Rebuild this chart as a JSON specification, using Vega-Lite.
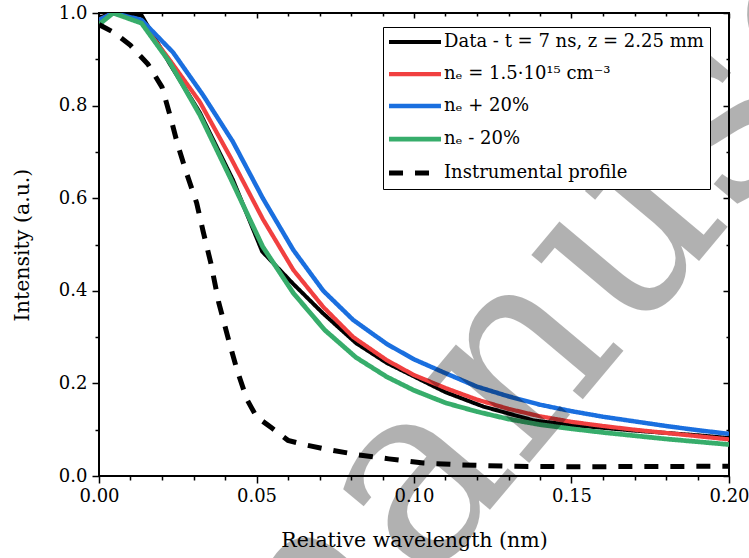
{
  "$schema": "https://vega.github.io/schema/vega-lite/v6.json",
  "width": 630,
  "height": 463,
  "autosize": "none",
  "padding": {"left": 99, "top": 13, "right": 20, "bottom": 82},
  "config": {
    "font": "DejaVu Serif",
    "view": {"stroke": "black", "strokeWidth": 2},
    "axis": {
      "domain": false,
      "grid": false,
      "tickColor": "black",
      "tickWidth": 1.5,
      "labelColor": "black",
      "titleColor": "black",
      "labelFont": "DejaVu Serif",
      "titleFont": "DejaVu Serif",
      "labelFontSize": 18,
      "titleFontSize": 20.5,
      "titleFontWeight": "normal",
      "labelOverlap": false,
      "labelFlush": false
    }
  },
  "datasets": {
    "curves": [
      {"s": "Data - t = 7 ns, z = 2.25 mm", "x": 0, "y": 0.99},
      {"s": "Data - t = 7 ns, z = 2.25 mm", "x": 0.0045, "y": 1.0},
      {"s": "Data - t = 7 ns, z = 2.25 mm", "x": 0.0135, "y": 0.995},
      {"s": "Data - t = 7 ns, z = 2.25 mm", "x": 0.0225, "y": 0.89},
      {"s": "Data - t = 7 ns, z = 2.25 mm", "x": 0.032, "y": 0.785},
      {"s": "Data - t = 7 ns, z = 2.25 mm", "x": 0.0425, "y": 0.64},
      {"s": "Data - t = 7 ns, z = 2.25 mm", "x": 0.0518, "y": 0.485},
      {"s": "Data - t = 7 ns, z = 2.25 mm", "x": 0.0615, "y": 0.416},
      {"s": "Data - t = 7 ns, z = 2.25 mm", "x": 0.071, "y": 0.352},
      {"s": "Data - t = 7 ns, z = 2.25 mm", "x": 0.0816, "y": 0.287},
      {"s": "Data - t = 7 ns, z = 2.25 mm", "x": 0.0914, "y": 0.244},
      {"s": "Data - t = 7 ns, z = 2.25 mm", "x": 0.1, "y": 0.215},
      {"s": "Data - t = 7 ns, z = 2.25 mm", "x": 0.11, "y": 0.181},
      {"s": "Data - t = 7 ns, z = 2.25 mm", "x": 0.122, "y": 0.15},
      {"s": "Data - t = 7 ns, z = 2.25 mm", "x": 0.138, "y": 0.12},
      {"s": "Data - t = 7 ns, z = 2.25 mm", "x": 0.15, "y": 0.11},
      {"s": "Data - t = 7 ns, z = 2.25 mm", "x": 0.16, "y": 0.104},
      {"s": "Data - t = 7 ns, z = 2.25 mm", "x": 0.17, "y": 0.098},
      {"s": "Data - t = 7 ns, z = 2.25 mm", "x": 0.18, "y": 0.093},
      {"s": "Data - t = 7 ns, z = 2.25 mm", "x": 0.19, "y": 0.088},
      {"s": "Data - t = 7 ns, z = 2.25 mm", "x": 0.2, "y": 0.082},
      {"s": "nₑ = 1.5·10¹⁵ cm⁻³", "x": 0, "y": 0.985},
      {"s": "nₑ = 1.5·10¹⁵ cm⁻³", "x": 0.0045, "y": 1.0},
      {"s": "nₑ = 1.5·10¹⁵ cm⁻³", "x": 0.0135, "y": 0.98},
      {"s": "nₑ = 1.5·10¹⁵ cm⁻³", "x": 0.0225, "y": 0.898},
      {"s": "nₑ = 1.5·10¹⁵ cm⁻³", "x": 0.032, "y": 0.808},
      {"s": "nₑ = 1.5·10¹⁵ cm⁻³", "x": 0.042, "y": 0.685},
      {"s": "nₑ = 1.5·10¹⁵ cm⁻³", "x": 0.052, "y": 0.555},
      {"s": "nₑ = 1.5·10¹⁵ cm⁻³", "x": 0.0617, "y": 0.445},
      {"s": "nₑ = 1.5·10¹⁵ cm⁻³", "x": 0.0712, "y": 0.365},
      {"s": "nₑ = 1.5·10¹⁵ cm⁻³", "x": 0.0807, "y": 0.3},
      {"s": "nₑ = 1.5·10¹⁵ cm⁻³", "x": 0.0914, "y": 0.25},
      {"s": "nₑ = 1.5·10¹⁵ cm⁻³", "x": 0.1, "y": 0.218},
      {"s": "nₑ = 1.5·10¹⁵ cm⁻³", "x": 0.11, "y": 0.19},
      {"s": "nₑ = 1.5·10¹⁵ cm⁻³", "x": 0.12, "y": 0.165},
      {"s": "nₑ = 1.5·10¹⁵ cm⁻³", "x": 0.13, "y": 0.145},
      {"s": "nₑ = 1.5·10¹⁵ cm⁻³", "x": 0.14, "y": 0.129},
      {"s": "nₑ = 1.5·10¹⁵ cm⁻³", "x": 0.15, "y": 0.117},
      {"s": "nₑ = 1.5·10¹⁵ cm⁻³", "x": 0.16, "y": 0.108},
      {"s": "nₑ = 1.5·10¹⁵ cm⁻³", "x": 0.17, "y": 0.1},
      {"s": "nₑ = 1.5·10¹⁵ cm⁻³", "x": 0.18, "y": 0.093},
      {"s": "nₑ = 1.5·10¹⁵ cm⁻³", "x": 0.19, "y": 0.086},
      {"s": "nₑ = 1.5·10¹⁵ cm⁻³", "x": 0.2, "y": 0.079},
      {"s": "nₑ + 20%", "x": 0, "y": 0.985},
      {"s": "nₑ + 20%", "x": 0.0045, "y": 1.0},
      {"s": "nₑ + 20%", "x": 0.0135, "y": 0.985},
      {"s": "nₑ + 20%", "x": 0.0235, "y": 0.915},
      {"s": "nₑ + 20%", "x": 0.033, "y": 0.823},
      {"s": "nₑ + 20%", "x": 0.0425, "y": 0.722},
      {"s": "nₑ + 20%", "x": 0.052, "y": 0.6},
      {"s": "nₑ + 20%", "x": 0.0617, "y": 0.488},
      {"s": "nₑ + 20%", "x": 0.0712, "y": 0.4},
      {"s": "nₑ + 20%", "x": 0.0807, "y": 0.337},
      {"s": "nₑ + 20%", "x": 0.0914, "y": 0.285},
      {"s": "nₑ + 20%", "x": 0.1, "y": 0.252},
      {"s": "nₑ + 20%", "x": 0.11, "y": 0.222},
      {"s": "nₑ + 20%", "x": 0.12, "y": 0.193},
      {"s": "nₑ + 20%", "x": 0.13, "y": 0.172},
      {"s": "nₑ + 20%", "x": 0.14, "y": 0.154},
      {"s": "nₑ + 20%", "x": 0.15, "y": 0.14},
      {"s": "nₑ + 20%", "x": 0.16, "y": 0.128},
      {"s": "nₑ + 20%", "x": 0.17, "y": 0.118},
      {"s": "nₑ + 20%", "x": 0.18, "y": 0.108},
      {"s": "nₑ + 20%", "x": 0.19, "y": 0.099},
      {"s": "nₑ + 20%", "x": 0.2, "y": 0.091},
      {"s": "nₑ - 20%", "x": 0, "y": 0.975},
      {"s": "nₑ - 20%", "x": 0.0045, "y": 1.0},
      {"s": "nₑ - 20%", "x": 0.0135, "y": 0.978},
      {"s": "nₑ - 20%", "x": 0.0225, "y": 0.893},
      {"s": "nₑ - 20%", "x": 0.032, "y": 0.78},
      {"s": "nₑ - 20%", "x": 0.0416, "y": 0.645},
      {"s": "nₑ - 20%", "x": 0.052, "y": 0.495},
      {"s": "nₑ - 20%", "x": 0.0617, "y": 0.395},
      {"s": "nₑ - 20%", "x": 0.0717, "y": 0.315},
      {"s": "nₑ - 20%", "x": 0.0816, "y": 0.256},
      {"s": "nₑ - 20%", "x": 0.0914, "y": 0.214},
      {"s": "nₑ - 20%", "x": 0.1, "y": 0.185},
      {"s": "nₑ - 20%", "x": 0.11, "y": 0.158},
      {"s": "nₑ - 20%", "x": 0.12, "y": 0.139},
      {"s": "nₑ - 20%", "x": 0.13, "y": 0.123},
      {"s": "nₑ - 20%", "x": 0.14, "y": 0.111},
      {"s": "nₑ - 20%", "x": 0.15, "y": 0.102},
      {"s": "nₑ - 20%", "x": 0.16, "y": 0.094},
      {"s": "nₑ - 20%", "x": 0.17, "y": 0.087},
      {"s": "nₑ - 20%", "x": 0.18, "y": 0.08},
      {"s": "nₑ - 20%", "x": 0.19, "y": 0.074},
      {"s": "nₑ - 20%", "x": 0.2, "y": 0.068},
      {"s": "Instrumental profile", "x": 0, "y": 0.975},
      {"s": "Instrumental profile", "x": 0.005, "y": 0.957},
      {"s": "Instrumental profile", "x": 0.01, "y": 0.93},
      {"s": "Instrumental profile", "x": 0.0155, "y": 0.89},
      {"s": "Instrumental profile", "x": 0.02, "y": 0.84},
      {"s": "Instrumental profile", "x": 0.0225, "y": 0.78},
      {"s": "Instrumental profile", "x": 0.025, "y": 0.715},
      {"s": "Instrumental profile", "x": 0.028, "y": 0.65},
      {"s": "Instrumental profile", "x": 0.031, "y": 0.59},
      {"s": "Instrumental profile", "x": 0.033, "y": 0.53},
      {"s": "Instrumental profile", "x": 0.0355, "y": 0.46},
      {"s": "Instrumental profile", "x": 0.038, "y": 0.375},
      {"s": "Instrumental profile", "x": 0.0415, "y": 0.285},
      {"s": "Instrumental profile", "x": 0.044, "y": 0.225},
      {"s": "Instrumental profile", "x": 0.047, "y": 0.165},
      {"s": "Instrumental profile", "x": 0.05, "y": 0.128},
      {"s": "Instrumental profile", "x": 0.055, "y": 0.103},
      {"s": "Instrumental profile", "x": 0.06, "y": 0.077},
      {"s": "Instrumental profile", "x": 0.065, "y": 0.068},
      {"s": "Instrumental profile", "x": 0.072, "y": 0.058},
      {"s": "Instrumental profile", "x": 0.082, "y": 0.046},
      {"s": "Instrumental profile", "x": 0.092, "y": 0.037},
      {"s": "Instrumental profile", "x": 0.103, "y": 0.028},
      {"s": "Instrumental profile", "x": 0.115, "y": 0.024},
      {"s": "Instrumental profile", "x": 0.13, "y": 0.021},
      {"s": "Instrumental profile", "x": 0.15, "y": 0.02},
      {"s": "Instrumental profile", "x": 0.2, "y": 0.021}
    ]
  },
  "resolve": {"axis": {"x": "independent", "y": "independent"}},
  "layer": [
    {
      "data": {"name": "curves"},
      "mark": {"type": "line", "clip": true},
      "encoding": {
        "x": {
          "field": "x",
          "type": "quantitative",
          "scale": {"domain": [0, 0.2], "nice": false, "zero": false},
          "axis": {
            "title": "Relative wavelength (nm)",
            "values": [0, 0.01, 0.02, 0.03, 0.04, 0.05, 0.06, 0.07, 0.08, 0.09, 0.1, 0.11, 0.12, 0.13, 0.14, 0.15, 0.16, 0.17, 0.18, 0.19, 0.2],
            "labelExpr": "round(datum.value * 100) % 5 == 0 ? format(datum.value, '.2f') : ''",
            "tickSize": {"condition": {"test": "round(datum.value * 100) % 5 == 0", "value": 7}, "value": 4},
            "labelPadding": 4,
            "titlePadding": 25
          }
        },
        "y": {
          "field": "y",
          "type": "quantitative",
          "scale": {"domain": [0, 1], "nice": false},
          "axis": {
            "title": "Intensity (a.u.)",
            "values": [0, 0.1, 0.2, 0.3, 0.4, 0.5, 0.6, 0.7, 0.8, 0.9, 1],
            "labelExpr": "round(datum.value * 10) % 2 == 0 ? format(datum.value, '.1f') : ''",
            "tickSize": {"condition": {"test": "round(datum.value * 10) % 2 == 0", "value": 7}, "value": 4},
            "labelPadding": 5,
            "titlePadding": 26
          }
        },
        "color": {
          "field": "s",
          "type": "nominal",
          "scale": {
            "domain": ["Data - t = 7 ns, z = 2.25 mm", "nₑ = 1.5·10¹⁵ cm⁻³", "nₑ + 20%", "nₑ - 20%", "Instrumental profile"],
            "range": ["#000000", "#F14040", "#1A6FDF", "#37AD6B", "#000000"]
          },
          "legend": {
            "title": null,
            "orient": "none",
            "legendX": 284,
            "legendY": 14,
            "strokeColor": "black",
            "fillColor": "white",
            "padding": 6,
            "symbolType": "M-5,0H5",
            "symbolSize": 108,
            "symbolStrokeWidth": 4.5,
            "symbolOffset": 17,
            "labelOffset": 20,
            "labelFont": "DejaVu Serif",
            "labelFontSize": 18,
            "labelColor": "black",
            "labelLimit": 400,
            "rowPadding": 14
          }
        },
        "strokeDash": {
          "field": "s",
          "type": "nominal",
          "scale": {
            "domain": ["Data - t = 7 ns, z = 2.25 mm", "nₑ = 1.5·10¹⁵ cm⁻³", "nₑ + 20%", "nₑ - 20%", "Instrumental profile"],
            "range": [[1, 0], [1, 0], [1, 0], [1, 0], [14, 12]]
          },
          "legend": {
            "title": null,
            "orient": "none",
            "legendX": 284,
            "legendY": 14
          }
        },
        "strokeWidth": {
          "field": "s",
          "type": "nominal",
          "legend": null,
          "scale": {
            "domain": ["Data - t = 7 ns, z = 2.25 mm", "nₑ = 1.5·10¹⁵ cm⁻³", "nₑ + 20%", "nₑ - 20%", "Instrumental profile"],
            "range": [4, 5, 5, 5, 3]
          }
        }
      }
    },
    {
      "data": {"name": "curves"},
      "mark": {"type": "point", "opacity": 0},
      "encoding": {
        "x": {
          "field": "x",
          "type": "quantitative",
          "axis": {
            "orient": "top",
            "title": null,
            "labels": false,
            "values": [0, 0.01, 0.02, 0.03, 0.04, 0.05, 0.06, 0.07, 0.08, 0.09, 0.1, 0.11, 0.12, 0.13, 0.14, 0.15, 0.16, 0.17, 0.18, 0.19, 0.2],
            "tickSize": {"condition": {"test": "round(datum.value * 100) % 5 == 0", "value": -5}, "value": -3}
          }
        },
        "y": {
          "field": "y",
          "type": "quantitative",
          "axis": {
            "orient": "right",
            "title": null,
            "labels": false,
            "values": [0, 0.1, 0.2, 0.3, 0.4, 0.5, 0.6, 0.7, 0.8, 0.9, 1],
            "tickSize": {"condition": {"test": "round(datum.value * 10) % 2 == 0", "value": -6}, "value": -3}
          }
        }
      }
    },
    {
      "data": {"values": [{}]},
      "mark": {
        "type": "text",
        "text": "manuscript",
        "font": "DejaVu Serif",
        "fontSize": 255,
        "angle": -50,
        "align": "left",
        "baseline": "alphabetic",
        "color": "black",
        "opacity": 0.3
      },
      "encoding": {
        "x": {"datum": 0.0541, "type": "quantitative", "axis": null},
        "y": {"datum": -0.641, "type": "quantitative", "axis": null}
      }
    }
  ]
}
